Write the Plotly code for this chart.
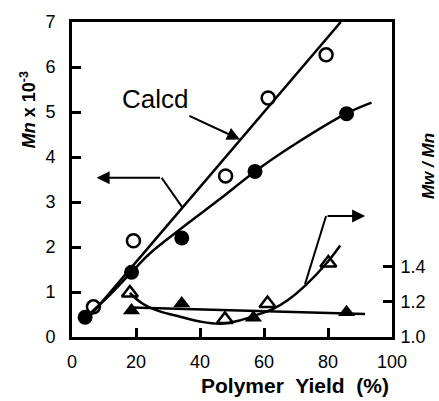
import plotly.graph_objects as go

# ---- data ----
# Mn (x10^-3) observed (filled circles) and open circles
yield_filled = [4.1, 18.6, 34.3, 57.2, 85.8]
mn_filled = [0.44, 1.44, 2.20, 3.68, 4.96]
yield_open = [6.7, 19.2, 48.0, 61.3, 79.4]
mn_open = [0.67, 2.14, 3.58, 5.31, 6.27]

# Calcd straight line
calcd_x = [4.0, 84.0]
calcd_y = [0.33, 7.0]

# fitted curve through filled circles
fit_x = [4.1, 12.0, 18.6, 24.4, 34.3, 46.3, 57.2, 70.0, 85.8, 93.6]
fit_y = [0.42, 0.95, 1.44, 1.86, 2.42, 3.07, 3.68, 4.30, 4.97, 5.21]

# Mw/Mn: open triangles and filled triangles
yield_tri_open = [18.1, 47.8, 61.1, 80.1]
pdi_open = [1.25, 1.10, 1.19, 1.42]
yield_tri_filled = [18.6, 34.3, 56.7, 85.8]
pdi_filled = [1.15, 1.19, 1.11, 1.14]

# curves for Mw/Mn
pdi_curve_x = [18.1, 22.0, 27.0, 33.8, 40.0, 46.3, 52.0, 57.2, 62.9, 67.5, 72.8, 79.6, 83.8]
pdi_curve_y = [1.25, 1.19, 1.148, 1.115, 1.088, 1.075, 1.092, 1.122, 1.16, 1.21, 1.29, 1.42, 1.52]
pdi_flat_x = [18.6, 91.6]
pdi_flat_y = [1.168, 1.130]

x_ticks = [0, 20, 40, 60, 80, 100]
y_ticks = [0, 1, 2, 3, 4, 5, 6, 7]
y2_ticks = [1.0, 1.2, 1.4]
y2_labels = ["1.0", "1.2", "1.4"]

# pointer polylines (x, left-axis y)
left_ptr = [(34.6, 2.87), (28.0, 3.54), (7.7, 3.54)]
right_ptr = [(72.8, 1.17), (79.4, 2.69), (91.6, 2.69)]
calcd_ptr = [(36.2, 4.93), (52.5, 4.39)]

FONT = "Liberation Sans, Arial, Helvetica, sans-serif"
K = "black"

fig = go.Figure()

fig.add_trace(go.Scatter(x=calcd_x, y=calcd_y, mode="lines",
                         line=dict(color=K, width=2.5), showlegend=False))
fig.add_trace(go.Scatter(x=fit_x, y=fit_y, mode="lines", line_shape="spline",
                         line=dict(color=K, width=2.5), showlegend=False))
fig.add_trace(go.Scatter(x=yield_filled, y=mn_filled, mode="markers",
                         marker=dict(symbol="circle", size=15, color=K),
                         showlegend=False))
fig.add_trace(go.Scatter(x=yield_open, y=mn_open, mode="markers",
                         marker=dict(symbol="circle-open", size=13, color=K,
                                     line=dict(width=2.5, color=K)),
                         showlegend=False))

fig.add_trace(go.Scatter(x=pdi_curve_x, y=pdi_curve_y, yaxis="y2", mode="lines",
                         line_shape="spline", line=dict(color=K, width=2.5),
                         showlegend=False))
fig.add_trace(go.Scatter(x=pdi_flat_x, y=pdi_flat_y, yaxis="y2", mode="lines",
                         line=dict(color=K, width=2.5), showlegend=False))
fig.add_trace(go.Scatter(x=yield_tri_open, y=pdi_open, yaxis="y2", mode="markers",
                         marker=dict(symbol="triangle-up-open", size=14, color=K,
                                     line=dict(width=2.5, color=K)),
                         showlegend=False))
fig.add_trace(go.Scatter(x=yield_tri_filled, y=pdi_filled, yaxis="y2", mode="markers",
                         marker=dict(symbol="triangle-up", size=15, color=K),
                         showlegend=False))

shapes = []
annotations = []


def polyline(pts):
    for (x0, y0), (x1, y1) in zip(pts[:-2], pts[1:-1]):
        shapes.append(dict(type="line", xref="x", yref="y", x0=x0, y0=y0,
                           x1=x1, y1=y1, line=dict(color=K, width=2)))
    (xa, ya), (xb, yb) = pts[-2], pts[-1]
    annotations.append(dict(x=xb, y=yb, ax=xa, ay=ya, xref="x", yref="y",
                            axref="x", ayref="y", text="", showarrow=True,
                            arrowhead=2, arrowsize=1.3, arrowwidth=2,
                            arrowcolor=K, standoff=0))


polyline(left_ptr)
polyline(right_ptr)
polyline(calcd_ptr)

annotations.append(dict(x=25.9, y=5.28, xref="x", yref="y", text="Calcd",
                        xanchor="center", yanchor="middle",
                        showarrow=False, font=dict(family=FONT, size=26, color=K)))
annotations.append(dict(x=-0.1375, y=0.72, xref="paper", yref="paper",
                        xanchor="center", yanchor="middle",
                        text="<b><i>Mn</i> x 10<sup>-3</sup></b>", textangle=-90,
                        showarrow=False, font=dict(family=FONT, size=18, color=K)))
annotations.append(dict(x=1.116, y=0.543, xref="paper", yref="paper",
                        xanchor="center", yanchor="middle",
                        text="<b><i>Mw / Mn</i></b>", textangle=-90,
                        showarrow=False, font=dict(family=FONT, size=17, color=K)))
annotations.append(dict(x=0.697, y=-0.155, xref="paper", yref="paper",
                        xanchor="center", yanchor="middle",
                        text="<b>Polymer  Yield  (%)</b>",
                        showarrow=False, font=dict(family=FONT, size=21, color=K)))

fig.update_layout(
    width=439, height=401,
    margin=dict(l=72, r=47, t=15, b=64),
    paper_bgcolor="white", plot_bgcolor="white",
    font=dict(family=FONT, size=18, color=K),
    shapes=shapes, annotations=annotations,
    xaxis=dict(range=[0, 100], tickvals=x_ticks, ticks="inside", ticklen=9,
               tickwidth=2.5, tickcolor=K, showline=True, linewidth=3,
               linecolor=K, mirror=True, showgrid=False, zeroline=False,
               tickfont=dict(size=18), ticklabelstandoff=6),
    yaxis=dict(range=[0, 7], tickvals=y_ticks, ticks="inside", ticklen=9,
               tickwidth=2.5, tickcolor=K, showline=True, linewidth=3,
               linecolor=K, mirror=True, showgrid=False, zeroline=False,
               tickfont=dict(size=18), ticklabelstandoff=10),
    yaxis2=dict(range=[1.0, 2.789], overlaying="y", side="right",
                tickvals=y2_ticks, ticktext=y2_labels, ticks="inside",
                ticklen=9, tickwidth=2.5, tickcolor=K, showline=True,
                linewidth=3, linecolor=K, showgrid=False, zeroline=False,
                tickfont=dict(size=18), ticklabelstandoff=2),
)

fig.write_html("out.html", config={"displayModeBar": False},
               post_script="document.body.style.margin='0';document.body.style.padding='0';")
